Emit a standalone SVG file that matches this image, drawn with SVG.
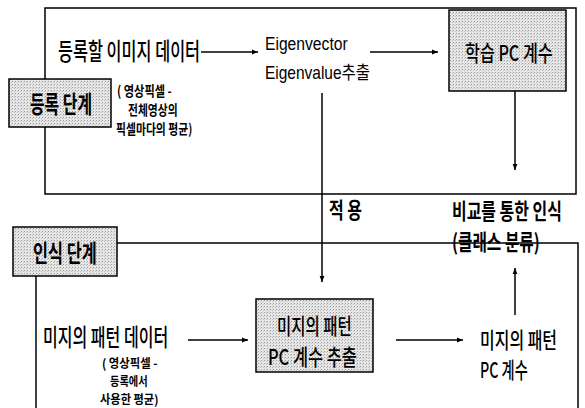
<svg xmlns="http://www.w3.org/2000/svg" width="585" height="408" viewBox="0 0 585 408">
<style>
text{font-family:"Noto Sans CJK KR","Liberation Sans",sans-serif;fill:#000;font-weight:500}
.big{font-size:24px}
.mid{font-size:22px}
.sm{font-size:14px;font-weight:bold}
.xs{font-size:12.5px;font-weight:bold}
.b{font-weight:bold}
.lat{font-family:"Liberation Sans","Noto Sans CJK KR",sans-serif;font-size:18px;font-weight:normal}
.frame{fill:none;stroke:#000;stroke-width:1.5}
.box{fill:url(#dots);stroke:#000;stroke-width:1.5}
.con{fill:none;stroke:#000;stroke-width:1.5}
</style>
<defs>
<pattern id="dots" width="3" height="3" patternUnits="userSpaceOnUse">
<rect width="3" height="3" fill="#e6e6e6"/>
<rect x="0" y="0" width="1" height="1" fill="#9a9a9a"/>
<rect x="2" y="1" width="1" height="1" fill="#c0c0c0"/>
</pattern>
<marker id="ah" viewBox="0 0 10 10" refX="10" refY="5" markerWidth="6" markerHeight="6" orient="auto" markerUnits="userSpaceOnUse">
<path d="M0,1 L10,5 L0,9 Z" fill="#000"/>
</marker>
</defs>
<rect width="585" height="408" fill="#fff"/>

<g id="frames">
<rect class="frame" x="45" y="8" width="531" height="186"/>
<path class="frame" d="M117,243 H578 V408"/>
<path class="frame" d="M36,276 V408"/>
</g>

<g id="connectors">
<line class="con" x1="201" y1="52" x2="258" y2="52" marker-end="url(#ah)"/>
<line class="con" x1="370" y1="52" x2="438" y2="52" marker-end="url(#ah)"/>
<line class="con" x1="515" y1="91" x2="515" y2="170" marker-end="url(#ah)"/>
<line class="con" x1="322" y1="93" x2="322" y2="282" marker-end="url(#ah)"/>
<line class="con" x1="188" y1="340" x2="248" y2="340" marker-end="url(#ah)"/>
<line class="con" x1="396" y1="340" x2="463" y2="340" marker-end="url(#ah)"/>
<line class="con" x1="515" y1="315" x2="515" y2="268" marker-end="url(#ah)"/>
</g>

<g id="reg-stage">
<rect class="box" x="9" y="79" width="102" height="48"/>
<text class="big b" transform="translate(30,113) scale(0.62,1)" textLength="100" lengthAdjust="spacingAndGlyphs">등록 단계</text>
</g>

<g id="reg-data">
<text class="big" transform="translate(58,60) scale(0.7,1)" textLength="203" lengthAdjust="spacingAndGlyphs">등록할 이미지 데이터</text>
<text class="sm" transform="translate(117,96) scale(0.72,1)" textLength="76" lengthAdjust="spacingAndGlyphs">( 영상픽셀 -</text>
<text class="sm" transform="translate(128,115) scale(0.72,1)" textLength="69" lengthAdjust="spacingAndGlyphs">전체영상의</text>
<text class="sm" transform="translate(116,134) scale(0.72,1)" textLength="106" lengthAdjust="spacingAndGlyphs">픽셀마다의 평균)</text>
</g>

<g id="eigen">
<text class="lat" transform="translate(265,50) scale(0.87,1)" textLength="95" lengthAdjust="spacingAndGlyphs">Eigenvector</text>
<text class="lat" transform="translate(265,79) scale(0.84,1)" textLength="125" lengthAdjust="spacingAndGlyphs">Eigenvalue추출</text>
</g>

<g id="train-pc">
<rect class="box" x="449" y="10" width="117" height="81"/>
<text class="mid" transform="translate(465,61) scale(0.68,1)" textLength="129" lengthAdjust="spacingAndGlyphs">학습 PC 계수</text>
</g>

<g id="apply-label">
<text class="mid b" transform="translate(329,218) scale(0.66,1)" textLength="50" lengthAdjust="spacingAndGlyphs">적 용</text>
</g>

<g id="compare">
<text class="mid b" transform="translate(452,219) scale(0.67,1)" textLength="164" lengthAdjust="spacingAndGlyphs">비교를 통한 인식</text>
<text class="mid b" transform="translate(452,250) scale(0.67,1)" textLength="131" lengthAdjust="spacingAndGlyphs">(클래스 분류)</text>
</g>

<g id="rec-stage">
<rect class="box" x="13" y="227" width="104" height="49"/>
<text class="big b" transform="translate(33,262) scale(0.63,1)" textLength="101" lengthAdjust="spacingAndGlyphs">인식 단계</text>
</g>

<g id="unknown-data">
<text class="big" transform="translate(43,346) scale(0.62,1)" textLength="202" lengthAdjust="spacingAndGlyphs">미지의 패턴 데이터</text>
<text class="xs" transform="translate(102,367.6) scale(0.78,1)" textLength="71" lengthAdjust="spacingAndGlyphs">( 영상픽셀 -</text>
<text class="xs" transform="translate(110,385.8) scale(0.74,1)" textLength="51" lengthAdjust="spacingAndGlyphs">등록에서</text>
<text class="xs" transform="translate(100,403.8) scale(0.8,1)" textLength="73" lengthAdjust="spacingAndGlyphs">사용한 평균)</text>
</g>

<g id="extract-pc">
<rect class="box" x="256" y="299" width="117" height="73"/>
<text class="mid" transform="translate(277,334) scale(0.65,1)" textLength="115" lengthAdjust="spacingAndGlyphs">미지의 패턴</text>
<text class="mid" transform="translate(268,365) scale(0.7,1)" textLength="127" lengthAdjust="spacingAndGlyphs">PC 계수 추출</text>
</g>

<g id="unknown-pc">
<text class="mid" transform="translate(480,348) scale(0.67,1)" textLength="115" lengthAdjust="spacingAndGlyphs">미지의 패턴</text>
<text class="mid" transform="translate(480,378) scale(0.62,1)" textLength="77" lengthAdjust="spacingAndGlyphs">PC 계수</text>
</g>
</svg>
